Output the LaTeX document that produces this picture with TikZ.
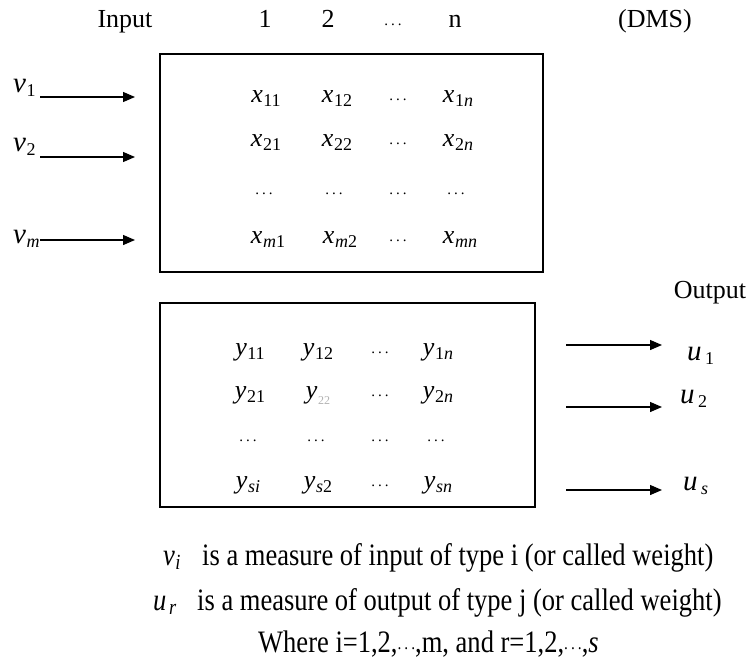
\documentclass[tikz,border=0pt]{standalone}
\usepackage{fontspec}
\usepackage{graphicx}
\setmainfont{Liberation Serif}
\usetikzlibrary{arrows.meta}

% italic symbol with an upright subscript
\newcommand\sym[2]{\textit{#1}\kern0.5pt\raisebox{-4pt}{\fontsize{18}{18}\selectfont #2}}
% small baseline dots used as fillers in the matrices
\newcommand\dotfiller{{\fontsize{15}{15}\selectfont\raisebox{2pt}{.\kern3pt.\kern3pt.}}}
% legend lines are set slightly taller than wide
\newcommand\tall[1]{\scalebox{1.02}[1.2]{#1}}

\begin{document}
\begin{tikzpicture}[x=1pt,y=-1pt,
  txt/.style={inner sep=0pt,anchor=base,font=\fontsize{26}{28}\selectfont},
  ent/.style={inner sep=0pt,anchor=base,font=\fontsize{26}{28}\selectfont},
  lbl/.style={inner sep=0pt,anchor=base west,font=\fontsize{29}{30}\selectfont},
  frame/.style={draw,line width=1.6pt},
  feed/.style={line width=1.3pt,-{Triangle[length=12pt,width=10pt]}}]
\useasboundingbox (0,0) rectangle (750,659);

% column header
\node[txt] (hin) at (125,27) {Input};
\node[txt] (h1) at (265,27) {1};
\node[txt] (h2) at (328,27) {2};
\node[txt] (hd) at (393,27) {\dotfiller};
\node[txt] (hn) at (455,27) {n};
\node[txt] (hdms) at (655,27) {(DMS)};

% input matrix
\draw[frame] (160,54) rectangle (543,272);
\node[ent] (x11) at (266,102) {\sym{x}{11}};
\node[ent] (x12) at (337,102) {\sym{x}{12}};
\node[ent] (x1d) at (398,102) {\dotfiller};
\node[ent] (x1n) at (458,102) {\sym{x}{1\itshape n}};
\node[ent] (x21) at (266,146) {\sym{x}{21}};
\node[ent] (x22) at (337,146) {\sym{x}{22}};
\node[ent] (x2d) at (398,146) {\dotfiller};
\node[ent] (x2n) at (458,146) {\sym{x}{2\itshape n}};
\node[ent] (xd1) at (264,196) {\dotfiller};
\node[ent] (xd2) at (334,196) {\dotfiller};
\node[ent] (xdd) at (398,196) {\dotfiller};
\node[ent] (xdn) at (456,196) {\dotfiller};
\node[ent] (xm1) at (268,243) {\sym{x}{\itshape m\upshape 1}};
\node[ent] (xm2) at (340,243) {\sym{x}{\itshape m\upshape 2}};
\node[ent] (xmd) at (398,243) {\dotfiller};
\node[ent] (xmn) at (460,243) {\sym{x}{\itshape mn}};

% input weights
\node[lbl] (v1) at (13,92) {\sym{v}{1}};
\node[lbl] (v2) at (13,151) {\sym{v}{2}};
\node[lbl] (vm) at (13,243) {\sym{v}{\itshape m}};
\coordinate (a1s) at (40,97);  \coordinate (a1e) at (135,97);
\coordinate (a2s) at (40,157); \coordinate (a2e) at (135,157);
\coordinate (a3s) at (40,240); \coordinate (a3e) at (135,240);
\draw[feed] (a1s) -- (a1e);
\draw[feed] (a2s) -- (a2e);
\draw[feed] (a3s) -- (a3e);

% output matrix
\draw[frame] (160,303) rectangle (535,507);
\node[ent] (y11) at (250,355) {\sym{y}{11}};
\node[ent] (y12) at (318,355) {\sym{y}{12}};
\node[ent] (y1d) at (380,355) {\dotfiller};
\node[ent] (y1n) at (438,355) {\sym{y}{1\itshape n}};
\node[ent] (y21) at (250,398) {\sym{y}{21}};
\node[ent] (y22) at (318,398) {\textit{y}\kern0.5pt\raisebox{-6pt}{\fontsize{12}{12}\selectfont\color{black!30}22}};
\node[ent] (y2d) at (380,398) {\dotfiller};
\node[ent] (y2n) at (438,398) {\sym{y}{2\itshape n}};
\node[ent] (yd1) at (248,443) {\dotfiller};
\node[ent] (yd2) at (316,443) {\dotfiller};
\node[ent] (ydd) at (380,443) {\dotfiller};
\node[ent] (ydn) at (436,443) {\dotfiller};
\node[ent] (ys1) at (248,488) {\sym{y}{\itshape si}};
\node[ent] (ys2) at (318,488) {\sym{y}{\itshape s\upshape 2}};
\node[ent] (ysd) at (380,488) {\dotfiller};
\node[ent] (ysn) at (438,488) {\sym{y}{\itshape sn}};

% output weights
\node[txt] (hout) at (710,298) {Output};
\node[lbl] (u1) at (687,360) {\sym{u}{\kern3pt 1}};
\node[lbl] (u2) at (680,403) {\sym{u}{\kern3pt 2}};
\node[lbl] (us) at (683,490) {\sym{u}{\kern3pt\itshape s}};
\coordinate (b1s) at (566,345); \coordinate (b1e) at (662,345);
\coordinate (b2s) at (566,407); \coordinate (b2e) at (662,407);
\coordinate (b3s) at (566,490); \coordinate (b3e) at (662,490);
\draw[feed] (b1s) -- (b1e);
\draw[feed] (b2s) -- (b2e);
\draw[feed] (b3s) -- (b3e);

% legend
\node[lbl,font=\fontsize{26}{28}\selectfont] (n1s) at (163,565) {\tall{\sym{v}{\itshape i}}};
\node[txt,anchor=base west] (n1) at (202,565) {\tall{is a measure of input of type i (or called weight)}};
\node[lbl,font=\fontsize{26}{28}\selectfont] (n2s) at (153,610) {\tall{\sym{u}{\kern2pt\itshape r}}};
\node[txt,anchor=base west] (n2) at (197,610) {\tall{is a measure of output of type j (or called weight)}};
\node[txt,anchor=base west] (n3) at (258,652) {\tall{Where i=1,2,\dotfiller,m, and r=1,2,\dotfiller,\textit{s}}};
\end{tikzpicture}
\end{document}
